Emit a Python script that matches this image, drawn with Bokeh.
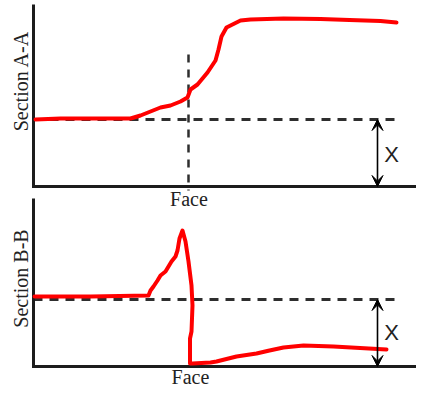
import numpy as np
from bokeh.plotting import figure
from bokeh.models import Range1d, Arrow, VeeHead
from bokeh.core.properties import value
from bokeh.embed import file_html
from bokeh.resources import INLINE

# ---- data (x in px-like units, heights above each panel's baseline) ----
top_x = [35, 60, 90, 130, 140, 150, 160, 170, 180, 187, 190, 197, 207, 215, 218, 221, 226, 230, 240, 250, 283, 320, 349, 380, 396]
top_h = [67, 68, 68, 68, 71, 75, 79, 81, 85, 89, 97, 102, 114, 126, 137, 150, 159, 161, 166, 167, 168, 167.5, 166.5, 165.5, 164]

bot_x = [34, 90, 148, 150, 153, 157, 160, 165, 171, 175, 177, 179, 182, 185, 188, 191, 192, 191, 189.5, 189.5, 192, 210, 216, 236, 256, 269, 283, 303, 333, 386]
bot_h = [70, 70, 71, 76, 80, 86, 91, 95, 105, 110, 116, 128, 136, 125, 105, 81, 61, 35, 28, 3, 3, 4, 5, 10, 13, 16, 19, 21, 20, 17]

ref_level = 67          # dashed reference level (both panels)
face_x = 188            # face position
panel_labels = ["Section A-A", "Section B-B"]
face_label = "Face"
gap_label = "X"

# ---- layout ----
TOP_BASE = 201
BOT_BASE = 21
AX_X = 33
TOP_AX_H = 182
BOT_AX_H = 168
X_END = 420
ARROW_X = 377

p = figure(width=416, height=387, output_backend="svg", toolbar_location=None,
           x_range=Range1d(0, 416), y_range=Range1d(0, 387), min_border=0)
p.axis.visible = False
p.grid.visible = False
p.outline_line_color = None
p.background_fill_color = "white"
p.border_fill_color = "white"

AX_COL = "#1c1c1c"
DASH_COL = "#2e2e2e"

for base, axh in [(TOP_BASE, TOP_AX_H), (BOT_BASE, BOT_AX_H)]:
    # reference dashed line
    p.line([AX_X, 396], [base + ref_level] * 2, line_color=DASH_COL, line_width=3, line_dash="9 7")
    # axes
    p.line([AX_X, AX_X, X_END], [base + axh, base, base], line_color=AX_COL, line_width=3,
           line_join="miter")
    # double arrow
    for ys, ye in [(base + ref_level / 2, base + ref_level), (base + ref_level / 2, base)]:
        p.add_layout(Arrow(end=VeeHead(size=11, fill_color="black", line_color="black", line_width=1),
                           x_start=ARROW_X, y_start=ys, x_end=ARROW_X, y_end=ye,
                           line_color="black", line_width=1.6))

# vertical face dashed line (top panel)
p.line([face_x, face_x], [TOP_BASE + 132, TOP_BASE - 4], line_color=DASH_COL, line_width=2.5, line_dash="8 7")

# red curves
p.line(top_x, [TOP_BASE + h for h in top_h], line_color="#ff0000", line_width=4,
       line_join="round", line_cap="round")
p.line(bot_x, [BOT_BASE + h for h in bot_h], line_color="#ff0000", line_width=4,
       line_join="round", line_cap="round")

# texts
p.text(x=[20, 20], y=[TOP_BASE + 105.5, BOT_BASE + 88], text=panel_labels, angle=np.pi / 2,
       text_font=value("Liberation Serif"), text_font_size="20px", text_color="#222222",
       text_align="center", text_baseline="middle")
p.text(x=[188.5, 190], y=[TOP_BASE - 12.5, BOT_BASE - 10], text=[face_label, face_label],
       text_font=value("Liberation Serif"), text_font_size="20px", text_color="#222222",
       text_align="center", text_baseline="middle")
p.text(x=[391, 391], y=[TOP_BASE + 32.3, BOT_BASE + 34], text=[gap_label, gap_label],
       text_font=value("Liberation Sans"), text_font_size="22px", text_color="#222222",
       text_align="center", text_baseline="middle")

open("out.html", "w").write(file_html(p, INLINE))
